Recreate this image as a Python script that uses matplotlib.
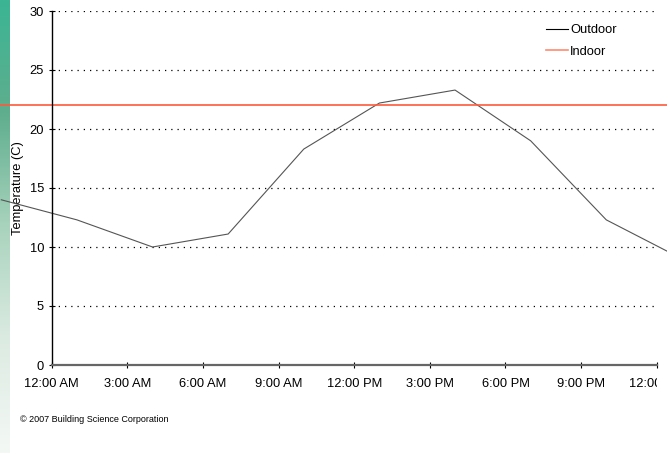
import numpy as np
import matplotlib.pyplot as plt
from matplotlib.colors import LinearSegmentedColormap
from matplotlib.transforms import Bbox, TransformedBbox

plt.rcParams['font.family'] = ['Liberation Sans', 'DejaVu Sans']

# hourly readings (hours after midnight), every 3 hours
hours = [-2, 1, 4, 7, 10, 13, 16, 19, 22, 25]
outdoor = [14.0, 12.3, 10.0, 11.1, 18.3, 22.2, 23.3, 19.0, 12.3, 9.0]
indoor = 22.0

tick_hours = [0, 3, 6, 9, 12, 15, 18, 21, 24]
tick_labels = ['12:00 AM', '3:00 AM', '6:00 AM', '9:00 AM', '12:00 PM',
               '3:00 PM', '6:00 PM', '9:00 PM', '12:00 AM']

fig = plt.figure(figsize=(6.67, 4.53), dpi=100)

# green strip on the left of the slide
strip = fig.add_axes([0, 0, 10 / 667, 1])
cmap = LinearSegmentedColormap.from_list(
    'slide', ['#3bb594', '#5fae8e', '#a9d3bd', '#dcebe2', '#f4f8f5'])
strip.imshow(np.linspace(0, 1, 256).reshape(-1, 1), cmap=cmap, aspect='auto')
strip.axis('off')

ax = fig.add_axes([51.7 / 667, 88 / 453, 605 / 667, 354 / 453])
ax.patch.set_alpha(0)

ax.plot(hours, outdoor, color='#555555', lw=0.8, clip_on=False, label='Outdoor')
ax.axhline(indoor, xmin=-0.1, xmax=1.1, color='#ff5a3c', lw=1.2, clip_on=False,
           label='Indoor')

ax.set_xlim(0, 24)
ax.set_ylim(0, 30)
ax.set_yticks(range(0, 31, 5))
ax.set_xticks(tick_hours)
ax.set_xticklabels(tick_labels)
ax.yaxis.grid(True, linestyle=(0, (1, 4)), color='black', lw=0.9)
ax.set_axisbelow(True)

for s in ['top', 'right']:
    ax.spines[s].set_visible(False)
ax.spines['left'].set_color('black')
ax.spines['left'].set_linewidth(1.0)
ax.spines['bottom'].set_color('#666666')
ax.spines['bottom'].set_linewidth(1.6)
ax.tick_params(direction='inout', length=5, width=0.8, labelsize=9.3,
               colors='black')
ax.tick_params(axis='x', pad=7)
ax.tick_params(axis='y', pad=3)

# the last label is cut at the chart's right edge, as on the slide
last = ax.get_xticklabels()[-1]
last.set_clip_on(True)
last.set_clip_box(TransformedBbox(Bbox([[0, 0], [657 / 667, 1]]), fig.transFigure))

ax.set_ylabel('Temperature (C)', fontsize=9.3, labelpad=4)

leg = ax.legend(loc='upper left', bbox_to_anchor=(546 / 667, 1 - 24 / 453),
                bbox_transform=fig.transFigure, frameon=False, fontsize=9.3,
                handlelength=1.7, handletextpad=0.15, labelspacing=0.75,
                borderaxespad=0, borderpad=0)
leg.get_lines()[0].set_color('black')
leg.get_lines()[1].set_color('#ff8a70')

fig.text(20 / 667, 1 - 420 / 453, '\u00a9 2007 Building Science Corporation',
         fontsize=6.5, va='center', ha='left')

fig.savefig('out.png', dpi=100)
